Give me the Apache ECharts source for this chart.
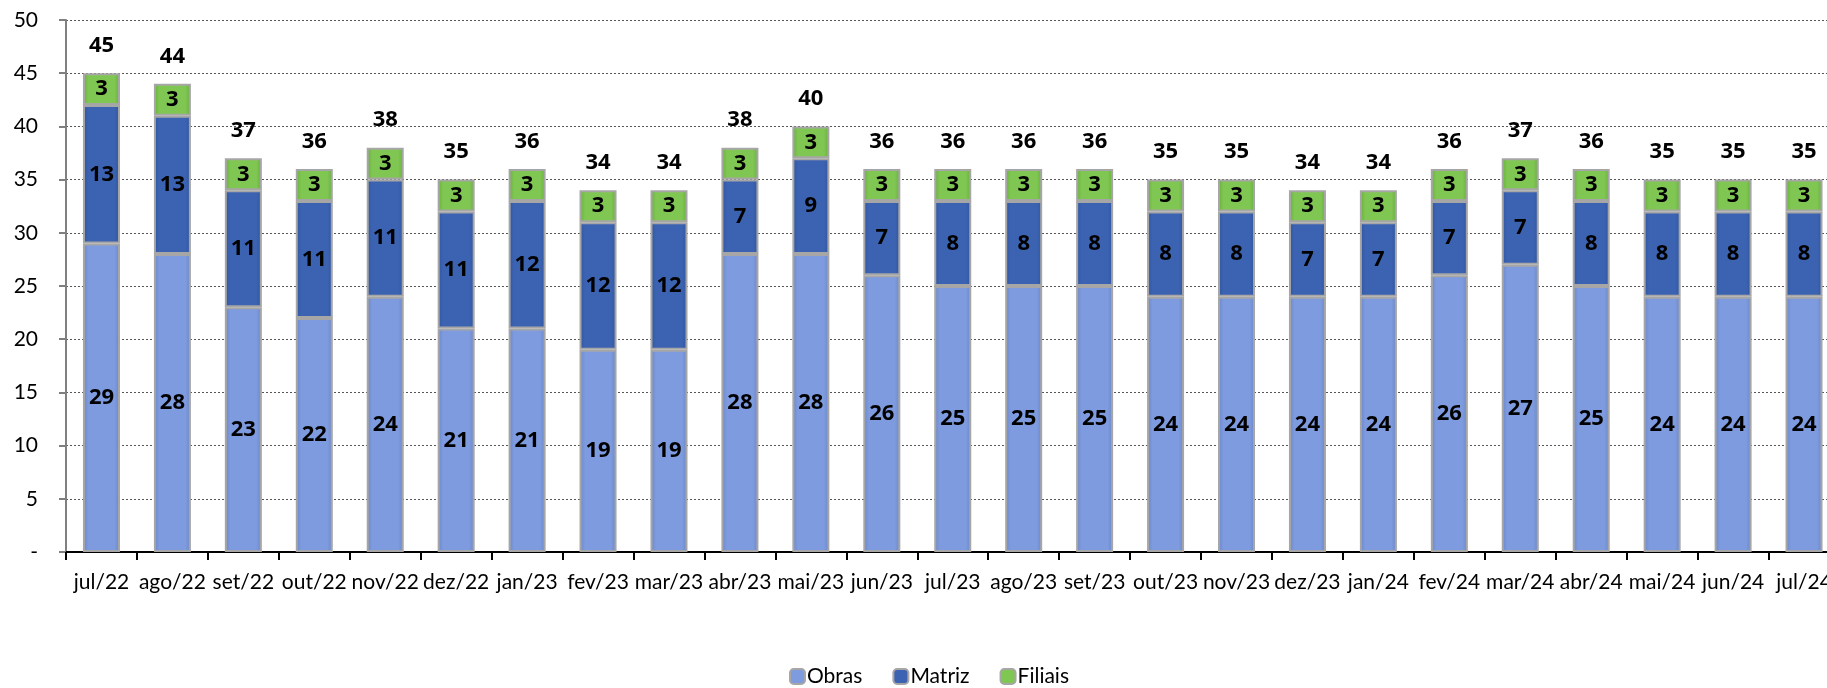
<!DOCTYPE html>
<html><head><meta charset="utf-8">
<script src="https://cdn.jsdelivr.net/npm/echarts@6/dist/echarts.min.js"></script>
<style>html,body{margin:0;padding:0;background:#fff;overflow:hidden}#c{width:1827px;height:688px}</style>
</head><body><div id="c"></div>
<script>
const categories = ['jul/22','ago/22','set/22','out/22','nov/22','dez/22','jan/23','fev/23','mar/23','abr/23','mai/23','jun/23','jul/23','ago/23','set/23','out/23','nov/23','dez/23','jan/24','fev/24','mar/24','abr/24','mai/24','jun/24','jul/24'];
const obras   = [29,28,23,22,24,21,21,19,19,28,28,26,25,25,25,24,24,24,24,26,27,25,24,24,24];
const matriz  = [13,13,11,11,11,11,12,12,12,7,9,7,8,8,8,8,8,7,7,7,7,8,8,8,8];
const filiais = [3,3,3,3,3,3,3,3,3,3,3,3,3,3,3,3,3,3,3,3,3,3,3,3,3];
const totals  = [45,44,37,36,38,35,36,34,34,38,40,36,36,36,36,35,35,34,34,36,37,36,35,35,35];

const FONT = 'Lato';
const BFONT = 'Open Sans';
function grad(edge, mid){
  return new echarts.graphic.LinearGradient(0,0,1,0,[
    {offset:0,color:edge},{offset:0.15,color:mid},{offset:0.85,color:mid},{offset:1,color:edge}]);
}
const inLabel = {show:true,position:'inside',color:'#000',fontFamily:BFONT,fontWeight:'bold',fontSize:22};
const chart = echarts.init(document.getElementById('c'));
chart.setOption({
  animation:false,
  grid:{left:66,width:1773.5,top:20,bottom:136,outerBoundsMode:'none',containLabel:false},
  legend:{bottom:-4,left:784,itemWidth:15,itemHeight:15,itemGap:30,
    textStyle:{fontFamily:FONT,fontSize:21,color:'#000',padding:[0,0,0,-3]},
    data:[{name:'Obras',itemStyle:{color:'#7e9bdf',borderColor:'#a6a6a6',borderWidth:2}},
          {name:'Matriz',itemStyle:{color:'#3c63b2',borderColor:'#a6a6a6',borderWidth:2}},
          {name:'Filiais',itemStyle:{color:'#80c652',borderColor:'#a6a6a6',borderWidth:2}}]},
  xAxis:{type:'category',data:categories,
    axisLine:{lineStyle:{color:'#000',width:2}},
    axisTick:{show:true,length:8,lineStyle:{color:'#000',width:2}},
    axisLabel:{fontFamily:FONT,fontSize:21,color:'#000',margin:20,interval:0}},
  yAxis:{type:'value',min:0,max:50,interval:5,
    axisLine:{show:true,lineStyle:{color:'#808080',width:2}},
    axisTick:{show:true,length:7,lineStyle:{color:'#808080',width:2}},
    splitLine:{lineStyle:{color:'#555',type:[2,2],width:1}},
    axisLabel:{fontFamily:FONT,fontSize:21,color:'#000',margin:28,
      formatter:v=>v===0?'-':String(v)}},
  series:[
    {name:'Obras',type:'bar',stack:'t',data:obras,barWidth:37,
      itemStyle:{color:grad('#6a86c8','#7e9bdf'),borderColor:'#a6a6a6',borderWidth:2},label:inLabel},
    {name:'Matriz',type:'bar',stack:'t',data:matriz,
      itemStyle:{color:grad('#2f559f','#3c63b2'),borderColor:'#a6a6a6',borderWidth:2},label:inLabel},
    {name:'Filiais',type:'bar',stack:'t',data:filiais,
      itemStyle:{color:grad('#68ae3c','#80c652'),borderColor:'#a6a6a6',borderWidth:2},label:inLabel},
    {name:'Total',type:'line',data:totals,symbol:'circle',symbolSize:1,showSymbol:true,
      itemStyle:{color:'rgba(0,0,0,0)'},lineStyle:{opacity:0},silent:true,
      label:{show:true,position:'top',distance:16,color:'#000',fontFamily:BFONT,fontWeight:'bold',fontSize:22}}
  ]
});
</script></body></html>
